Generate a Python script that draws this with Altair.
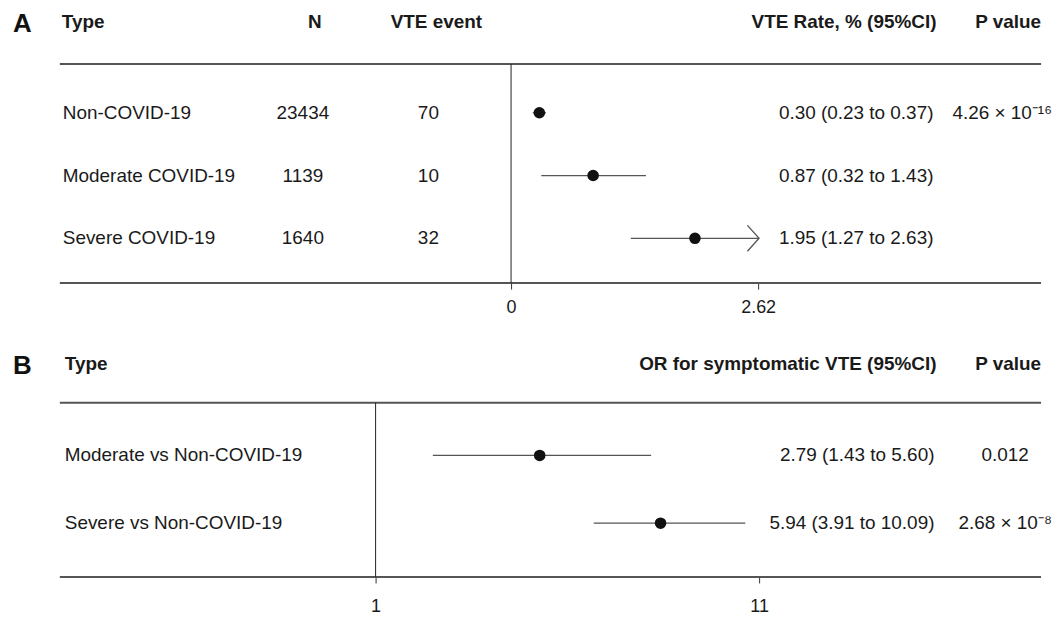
import altair as alt
import pandas as pd

# ---------------- data ----------------
types_a = ["Non-COVID-19", "Moderate COVID-19", "Severe COVID-19"]
n_a = [23434, 1139, 1640]
events_a = [70, 10, 32]
rate_a = [0.30, 0.87, 1.95]
lo_a = [0.23, 0.32, 1.27]
hi_a = [0.37, 1.43, 2.63]
p_a = ["4.26 × 10⁻¹⁶", "", ""]
arrow_a = [False, False, True]
ticks_a = [0, 2.62]
ref_a = [0]

types_b = ["Moderate vs Non-COVID-19", "Severe vs Non-COVID-19"]
or_b = [2.79, 5.94]
lo_b = [1.43, 3.91]
hi_b = [5.60, 10.09]
p_b = ["0.012", "2.68 × 10⁻⁸"]
ticks_b = [1, 11]
ref_b = [1]

# ---------------- style ----------------
FONT = "Liberation Sans"
TXT = "#1a1a1a"
LINE = "#555555"
W = 1044
HA = 275
HB = 230
FS = 19

df_a = pd.DataFrame({
    "type": types_a, "n": n_a, "events": events_a,
    "est": rate_a, "lo": lo_a, "hi": hi_a, "p": p_a, "arrow": arrow_a,
})
df_a["ci"] = [f"{e:.2f} ({l:.2f} to {h:.2f})" for e, l, h in zip(rate_a, lo_a, hi_a)]

df_b = pd.DataFrame({"type": types_b, "est": or_b, "lo": lo_b, "hi": hi_b, "p": p_b})
df_b["ci"] = [f"{e:.2f} ({l:.2f} to {h:.2f})" for e, l, h in zip(or_b, lo_b, hi_b)]

one = pd.DataFrame({"k": [0]})


def panel(df, types, xscale, ticks, height, letter, head_y, line_y, headers,
          cols, ref_vals, label_pad, arrow_df=None):
    yenc = alt.Y("type:N", sort=types, axis=None,
                 scale=alt.Scale(type="point", range=cols["rows"], padding=0))
    xaxis = alt.Axis(values=ticks, format=".4~g", domain=False, grid=False,
                     tickSize=6, tickColor="#333", tickWidth=1,
                     labelFont=FONT, labelFontSize=18, labelColor=TXT,
                     labelPadding=label_pad, title=None)

    def X(field):
        return alt.X(field, scale=xscale, axis=xaxis, title=None)

    deco = alt.Chart(one)
    layers = [
        deco.mark_rule(color=LINE, strokeWidth=2).encode(
            x=alt.value(52), x2=alt.value(1037), y=alt.value(line_y)),
        deco.mark_rule(color=LINE, strokeWidth=2).encode(
            x=alt.value(52), x2=alt.value(1037), y=alt.value(height)),
        alt.Chart(pd.DataFrame({"ref": ref_vals})).mark_rule(color="#222", strokeWidth=1).encode(
            x=X("ref:Q"), y=alt.value(line_y), y2=alt.value(height)),
    ]
    base = alt.Chart(df)
    layers.append(base.mark_rule(color=LINE, strokeWidth=1.3).encode(
        x=X("lo:Q"), x2="hi:Q", y=yenc))
    if arrow_df is not None:
        layers.append(alt.Chart(arrow_df).mark_point(
            shape="M -0.9 -1 L 0 0 L -0.9 1", filled=False, size=676,
            color=LINE, strokeWidth=1.3, opacity=1).encode(
            x=X("hi:Q"), y=yenc))
    layers.append(base.mark_circle(size=135, color="#111", opacity=1).encode(
        x=X("est:Q"), y=yenc))
    # table text columns
    layers.append(base.mark_text(font=FONT, fontSize=FS, color=TXT, align="left").encode(
        x=alt.value(cols["label_x"]), y=yenc, text="type:N"))
    for field, xpos, align in cols["text_cols"]:
        layers.append(base.mark_text(font=FONT, fontSize=FS, color=TXT, align=align).encode(
            x=alt.value(xpos), y=yenc, text=field))
    # headers
    layers.append(deco.mark_text(font=FONT, fontSize=26, fontWeight="bold", color="#111",
                                 align="left", baseline="middle", text=letter).encode(
        x=alt.value(5), y=alt.value(head_y + 2)))
    for label, xpos, align in headers:
        layers.append(deco.mark_text(font=FONT, fontSize=FS, fontWeight="bold", color=TXT,
                                     align=align, baseline="middle", text=label).encode(
            x=alt.value(xpos), y=alt.value(head_y)))
    return alt.layer(*layers).properties(width=W, height=height)


scale_a = alt.Scale(domain=[-5.3351, 5.6943], nice=False, zero=False)
scale_b = alt.Scale(type="log", domain=[0.10042, 66.97], nice=False)

chart_a = panel(
    df_a, types_a, scale_a, ticks_a, HA, "A", 13, 55,
    headers=[("Type", 54, "left"), ("N", 308, "center"), ("VTE event", 430, "center"),
             ("VTE Rate, % (95%CI)", 932, "right"), ("P value", 1004, "center")],
    cols={"rows": [104, 230], "label_x": 55,
          "text_cols": [("n:N", 296, "center"), ("events:N", 422, "center"),
                        ("ci:N", 929, "right"), ("p:N", 998, "center")]},
    ref_vals=ref_a, label_pad=10, arrow_df=df_a[df_a["arrow"]],
)

chart_b = panel(
    df_b, types_b, scale_b, ticks_b, HB, "B", 16, 55,
    headers=[("Type", 57, "left"), ("OR for symptomatic VTE (95%CI)", 932, "right"),
             ("P value", 1004, "center")],
    cols={"rows": [108, 176], "label_x": 57,
          "text_cols": [("ci:N", 930, "right"), ("p:N", 1001, "center")]},
    ref_vals=ref_b, label_pad=15,
)

chart = alt.vconcat(chart_a, chart_b, spacing=31).properties(
    padding=0, background="white"
).configure_view(strokeWidth=0)

chart.save("out.html", embed_options={"renderer": "svg", "actions": False})
